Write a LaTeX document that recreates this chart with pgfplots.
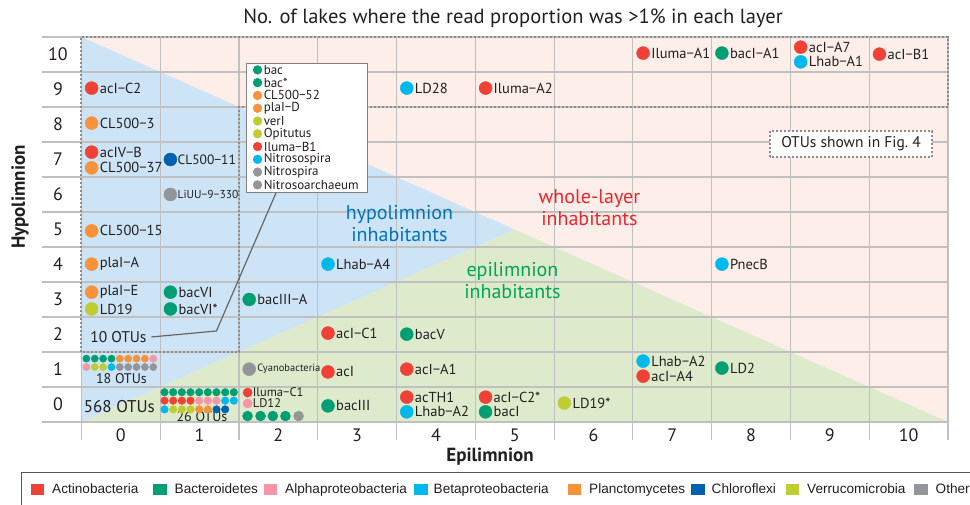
\documentclass[border=0pt]{standalone}
\usepackage{pgfplots}
\pgfplotsset{compat=1.18}
\usepackage{fontspec}
\setmainfont{PT Sans}
\newfontfamily\legfont{Liberation Sans}
\newcommand\fs[1]{\fontsize{#1}{#1}\selectfont}
\definecolor{cRed}{RGB}{239,65,54}
\definecolor{cGreen}{RGB}{0,158,115}
\definecolor{cPink}{RGB}{244,150,165}
\definecolor{cCyan}{RGB}{0,185,236}
\definecolor{cOrange}{RGB}{247,146,58}
\definecolor{cDBlue}{RGB}{0,98,175}
\definecolor{cOlive}{RGB}{192,205,50}
\definecolor{cGray}{RGB}{147,149,152}
\definecolor{bgPink}{RGB}{253,238,233}
\definecolor{bgBlue}{RGB}{204,228,245}
\definecolor{bgGreen}{RGB}{221,235,204}
\definecolor{gridc}{RGB}{192,192,192}
\definecolor{dotc}{RGB}{140,140,140}
\definecolor{txt}{RGB}{35,31,32}
\definecolor{hypoc}{RGB}{0,114,188}
\definecolor{wholec}{RGB}{232,38,48}
\definecolor{epic}{RGB}{0,166,81}
\definecolor{legb}{RGB}{85,85,85}
\pgfplotsset{
  pt/.style 2 args={only marks, mark=*, mark size=#2, color=#1, mark options={draw=none}},
  lab/.style={nodes near coords, point meta=explicit symbolic,
     every node near coord/.append style={anchor=west, inner sep=1pt, text=txt, #1}},
}
\begin{document}
\begin{tikzpicture}[x=1pt,y=1pt]
\begin{axis}[
  name=ax,
  scale only axis, width=906pt, height=385pt,
  xmin=-1, xmax=10.5, ymin=-0.5, ymax=10.5,
  axis line style={draw=none},
  clip=false,
  xtick={0,...,10}, ytick={0,...,10},
  major tick length=0pt, tick style={draw=none},
  /pgf/number format/assume math mode=true,
  ticklabel style={font=\fs{18}, text=txt},
  xticklabel style={anchor=center, yshift=-13pt},
  yticklabel style={anchor=center, xshift=16pt},
  title={No. of lakes where the read proportion was >1\% in each layer},
  title style={at={(axis description cs:0.5199,1.034)}, anchor=center, font=\fs{20.5}, text=txt},
  xlabel={Epilimnion},
  xlabel style={at={(axis description cs:0.4945,-0.0909)}, anchor=center, font=\bfseries\fs{19}, text=txt},
  ylabel={Hypolimnion},
  ylabel style={at={(axis description cs:-0.0243,0.5844)}, anchor=center, font=\bfseries\fs{19}, text=txt},
  legend columns=8,
  legend cell align=left,
  legend style={at={(axis description cs:-0.02318,-0.12987)}, anchor=north west,
     draw=legb, line width=1.5pt, fill=white, inner xsep=9pt, inner ysep=11pt,
     column sep=0pt, nodes={inner sep=0pt}, font=\legfont\fs{13.6}, text=txt},
]
% ---- legend (bottom)
\addlegendimage{legend image code/.code={\fill[cRed] (0pt,-5pt) rectangle (12pt,5pt);}}
\addlegendentry{\makebox[109pt][l]{\hspace*{8pt}Actinobacteria}}
\addlegendimage{legend image code/.code={\fill[cGreen] (0pt,-5pt) rectangle (12pt,5pt);}}
\addlegendentry{\makebox[97pt][l]{\hspace*{8pt}Bacteroidetes}}
\addlegendimage{legend image code/.code={\fill[cPink] (0pt,-5pt) rectangle (12pt,5pt);}}
\addlegendentry{\makebox[137pt][l]{\hspace*{8pt}Alphaproteobacteria}}
\addlegendimage{legend image code/.code={\fill[cCyan] (0pt,-5pt) rectangle (12pt,5pt);}}
\addlegendentry{\makebox[140pt][l]{\hspace*{6pt}Betaproteobacteria}}
\addlegendimage{legend image code/.code={\fill[cOrange] (0pt,-5pt) rectangle (12pt,5pt);}}
\addlegendentry{\makebox[110pt][l]{\hspace*{8pt}Planctomycetes}}
\addlegendimage{legend image code/.code={\fill[cDBlue] (0pt,-5pt) rectangle (12pt,5pt);}}
\addlegendentry{\makebox[81pt][l]{\hspace*{7pt}Chloroflexi}}
\addlegendimage{legend image code/.code={\fill[cOlive] (0pt,-5pt) rectangle (12pt,5pt);}}
\addlegendentry{\makebox[115pt][l]{\hspace*{8pt}Verrucomicrobia}}
\addlegendimage{legend image code/.code={\fill[cGray] (0pt,-5pt) rectangle (12pt,5pt);}}
\addlegendentry{\makebox[60pt][l]{\hspace*{8pt}Others}}
% ---- backgrounds
\addplot[fill=bgPink, draw=none, mark=none] coordinates {(-0.5,-0.5) (10.5,-0.5) (10.5,10.5) (-0.5,10.5)} -- cycle;
\addplot[fill=bgBlue, draw=none, mark=none] coordinates {(-0.5,10.5) (-0.5,-0.5) (5,5)} -- cycle;
\addplot[fill=bgGreen, draw=none, mark=none] coordinates {(-0.5,-0.5) (10.5,-0.5) (5,5)} -- cycle;
% ---- grid
\pgfplotsinvokeforeach{-0.5,0.5,1.5,2.5,3.5,4.5,5.5,6.5,7.5,8.5,9.5,10.5}{
  \draw[gridc, line width=1.1pt] (axis cs:-1,#1) -- (axis cs:10.5,#1);
  \draw[gridc, line width=1.1pt] (axis cs:#1,-1.014) -- (axis cs:#1,10.5);
}
% ---- dotted outline of OTUs
\draw[dotc, line width=1.8pt, dash pattern=on 2pt off 2pt]
  (axis cs:-0.5,1.5) -- (axis cs:-0.5,10.5) -- (axis cs:10.5,10.5) -- (axis cs:10.5,8.5)
  -- (axis cs:1.5,8.5) -- (axis cs:1.5,1.5) -- cycle;
% ---- region labels
\node[align=center, text=hypoc, font=\fs{20}] at (axis cs:3.537,5.157) {hypolimnion\\[2pt]inhabitants};
\node[align=center, text=wholec, font=\fs{20}] at (axis cs:5.948,5.614) {whole-layer\\[2pt]inhabitants};
\node[align=center, text=epic, font=\fs{20}] at (axis cs:4.971,3.543) {epilimnion\\[2pt]inhabitants};
% ---- Fig 4 box
\draw[dotc, line width=1.8pt, dash pattern=on 2pt off 2pt, fill=white] (axis cs:8.242,7.071) rectangle (axis cs:10.30,7.814);
\node[text=txt, font=\fs{15.5}] at (axis cs:9.27,7.44) {OTUs shown in Fig.~4};
% ---- callout line and inset box
\draw[black!60, line width=1.2pt] (axis cs:0.389,1.929) -- (axis cs:1.214,2.1) -- (axis cs:1.975,6.07);
\draw[fill=white, draw=black!50, line width=1pt] (axis cs:1.597,6.07) rectangle (axis cs:3.134,9.73);
% ---- counts text
\node[text=txt, font=\fs{15.5}] at (axis cs:-0.030,1.929) {10 OTUs};
\node[text=txt, font=\fs{14}] at (axis cs:0.008,0.729) {18 OTUs};
\node[text=txt, font=\fs{17}] at (axis cs:-0.018,-0.071) {568 OTUs};
\node[text=txt, font=\fs{14}] at (axis cs:1.03,-0.357) {26 OTUs};
% ---- labelled OTUs
\addplot[pt={cRed}{6.5pt}, lab={xshift=7pt, font=\fs{14.5}}] table[meta=label] {
x y label
-0.37 9.04 acI−C2
-0.37 7.21 acIV−B
2.63 2.04 acI−C1
2.63 0.93 acI
3.63 1.01 acI−A1
3.63 0.21 acTH1
4.63 9.04 Iluma−A2
4.63 0.21 acI−C2*
6.63 10.04 Iluma−A1
6.63 0.81 acI−A4
8.63 10.21 acI−A7
9.63 10.01 acI−B1
};
\addplot[pt={cOrange}{6.5pt}, lab={xshift=7pt, font=\fs{14.5}}] table[meta=label] {
x y label
-0.37 8.04 CL500−3
-0.37 6.76 CL500−37
-0.37 4.96 CL500−15
-0.37 4.01 plaI−A
-0.37 3.21 plaI−E
};
\addplot[pt={cOlive}{6.5pt}, lab={xshift=7pt, font=\fs{14.5}}] table[meta=label] {
x y label
-0.37 2.73 LD19
5.63 0.04 LD19*
};
\addplot[pt={cGreen}{6.5pt}, lab={xshift=7pt, font=\fs{14.5}}] table[meta=label] {
x y label
0.63 3.21 bacVI
0.63 2.73 bacVI*
1.63 3.0 bacIII−A
2.63 -0.04 bacIII
3.63 2.01 bacV
4.63 -0.21 bacI
7.63 10.04 bacI−A1
7.63 1.04 LD2
};
\addplot[pt={cCyan}{6.5pt}, lab={xshift=7pt, font=\fs{14.5}}] table[meta=label] {
x y label
2.63 4.01 Lhab−A4
3.63 9.04 LD28
3.63 -0.21 Lhab−A2
6.63 1.24 Lhab−A2
7.63 4.01 PnecB
8.63 9.79 Lhab−A1
};
\addplot[pt={cDBlue}{6.5pt}, lab={xshift=6pt, font=\fs{13.5}}] table[meta=label] {
x y label
0.63 7.0 CL500−11
};
\addplot[pt={cGray}{6.5pt}, lab={xshift=6pt, font=\fs{11.5}}] table[meta=label] {
x y label
0.63 6.0 LiUU−9−330
};
\addplot[pt={cGray}{6.5pt}, lab={xshift=7pt, font=\fs{10.5}}] table[meta=label] {
x y label
1.63 1.01 Cyanobacteria
};
\addplot[pt={cRed}{4.6pt}, lab={xshift=5pt, font=\fs{12.5}, inner sep=0pt}] table[meta=label] {
x y label
1.61 0.34 Iluma−C1
};
\addplot[pt={cPink}{4.6pt}, lab={xshift=5pt, font=\fs{12.5}, inner sep=0pt}] table[meta=label] {
x y label
1.61 0.03 LD12
};
\addplot[pt={cGreen}{5pt}] coordinates {(1.609,-0.33) (1.774,-0.33) (1.93,-0.33) (2.09,-0.33)};
\addplot[pt={cGray}{5pt}] coordinates {(2.257,-0.33)};
% ---- inset: the 10 OTUs
\addplot[pt={cGreen}{4.4pt}, lab={xshift=5pt, font=\fs{13}}] table[meta=label] {
x y label
1.736 9.56 bac
1.736 9.195 bac*
};
\addplot[pt={cOrange}{4.4pt}, lab={xshift=5pt, font=\fs{13}}] table[meta=label] {
x y label
1.736 8.83 CL500−52
1.736 8.465 plaI−D
};
\addplot[pt={cOlive}{4.4pt}, lab={xshift=5pt, font=\fs{13}}] table[meta=label] {
x y label
1.736 8.10 verI
1.736 7.735 Opitutus
};
\addplot[pt={cRed}{4.4pt}, lab={xshift=5pt, font=\fs{13}}] table[meta=label] {
x y label
1.736 7.37 Iluma−B1
};
\addplot[pt={cCyan}{4.4pt}, lab={xshift=5pt, font=\fs{13}}] table[meta=label] {
x y label
1.736 7.005 Nitrosospira
};
\addplot[pt={cGray}{4.4pt}, lab={xshift=5pt, font=\fs{13}}] table[meta=label] {
x y label
1.736 6.64 Nitrospira
1.736 6.275 Nitrosoarchaeum
};
% ---- 18 OTUs (cell 0,1)
\addplot[pt={cGreen}{3.6pt}] coordinates {(-0.436,1.31) (-0.330,1.31) (-0.224,1.31) (-0.118,1.31)};
\addplot[pt={cOrange}{3.6pt}] coordinates {(-0.012,1.31) (0.094,1.31) (0.200,1.31) (0.306,1.31)};
\addplot[pt={cPink}{3.6pt}] coordinates {(0.412,1.31) (-0.436,1.07)};
\addplot[pt={cOlive}{3.6pt}] coordinates {(-0.330,1.07) (-0.224,1.07)};
\addplot[pt={cCyan}{3.6pt}] coordinates {(-0.118,1.07)};
\addplot[pt={cGray}{3.6pt}] coordinates {(-0.012,1.07) (0.094,1.07) (0.200,1.07) (0.306,1.07) (0.412,1.07)};
% ---- 26 OTUs (cell 1,0)
\addplot[pt={cGreen}{3.8pt}] coordinates {(0.555,0.35) (0.665,0.35) (0.775,0.35) (0.885,0.35) (0.995,0.35) (1.105,0.35) (1.215,0.35) (1.325,0.35) (1.435,0.35)};
\addplot[pt={cRed}{3.8pt}] coordinates {(0.555,0.11) (0.665,0.11) (0.775,0.11) (0.885,0.11)};
\addplot[pt={cPink}{3.8pt}] coordinates {(0.995,0.11) (1.105,0.11) (1.215,0.11)};
\addplot[pt={cCyan}{3.8pt}] coordinates {(1.325,0.11) (1.435,0.11) (0.555,-0.14)};
\addplot[pt={cOlive}{3.8pt}] coordinates {(0.665,-0.14) (0.775,-0.14) (0.885,-0.14)};
\addplot[pt={cOrange}{3.8pt}] coordinates {(0.995,-0.14) (1.105,-0.14)};
\addplot[pt={cDBlue}{3.8pt}] coordinates {(1.215,-0.14) (1.325,-0.14)};
\end{axis}
\pgfresetboundingbox
\path[use as bounding box] (ax.south west) ++(-42,-83) rectangle ++(970,505);
\end{tikzpicture}
\end{document}
